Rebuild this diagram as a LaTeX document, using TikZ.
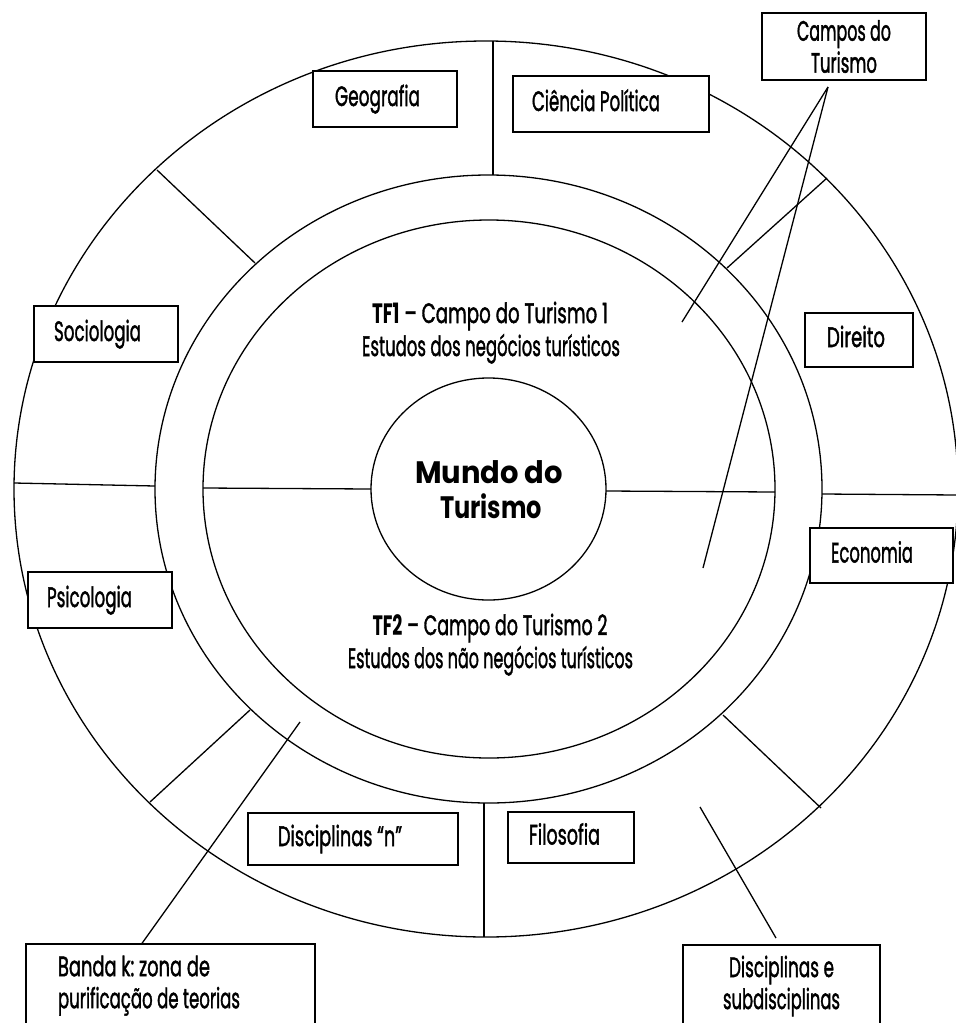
\documentclass[tikz,border=0pt]{standalone}
\usepackage{fontspec}
\usepackage{graphicx}
\newfontfamily\cond[FakeBold=1.8]{Poppins}
\newfontfamily\tfb{Poppins}
\newfontfamily\geo{Poppins}
\frenchspacing
% set a line of text to a given width, keeping its height
\newcommand\fitw[2]{\resizebox{#1}{\height}{\spaceskip=0pt\xspaceskip=0pt\relax#2}}
\begin{document}
\begin{tikzpicture}[x=1pt,y=-1pt,
  ring/.style={line width=1.3pt},
  rule/.style={line width=1.3pt},
  lbl/.style={draw, fill=white, line width=1.3pt, inner ysep=0pt,
    font=\cond\fontsize{28}{32}\selectfont, text height=20pt, text depth=6pt},
  lbl2/.style={draw, fill=white, line width=1.3pt, inner ysep=0pt,
    font=\cond\fontsize{28}{32}\selectfont},
  body/.style={inner sep=0pt, anchor=base, font=\cond\fontsize{28}{32}\selectfont},
  core/.style={inner sep=0pt, anchor=base, font=\geo\bfseries\fontsize{31}{35}\selectfont}]
\useasboundingbox (0,0) rectangle (956,1023);

% concentric rings
\draw[ring] (486,489) ellipse [x radius=472pt, y radius=448pt];
\draw[ring] (488.5,489) ellipse [x radius=333.5pt, y radius=314pt];
\draw[ring] (489,489) ellipse [x radius=286pt, y radius=269pt];
\draw[ring] (488.5,489) ellipse [x radius=117.5pt, y radius=111pt];

% points where the dividers meet the rings
\coordinate (topO) at (493,41);   \coordinate (topM) at (493,175);
\coordinate (botM) at (484,803);  \coordinate (botO) at (484,937);
\coordinate (lfO) at (14,483);    \coordinate (lfM) at (155,486);
\coordinate (lfI) at (203,488);   \coordinate (lfC) at (371,489);
\coordinate (rtC) at (606,491);   \coordinate (rtI) at (775,492);
\coordinate (rtM) at (822,494);   \coordinate (rtO) at (958,495);
\coordinate (ulO) at (157,170);   \coordinate (ulM) at (255,263);
\coordinate (urO) at (827,178);   \coordinate (urM) at (727,268);
\coordinate (llM) at (250,710);   \coordinate (llO) at (150,802);
\coordinate (lrM) at (723,715);   \coordinate (lrO) at (821,808);

% sector dividers
\draw[rule] (topO) -- (topM);
\draw[rule] (botM) -- (botO);
\draw[rule] (lfO) -- (lfM);
\draw[rule] (lfI) -- (lfC);
\draw[rule] (rtC) -- (rtI);
\draw[rule] (rtM) -- (rtO);
\draw[rule] (ulO) -- (ulM);
\draw[rule] (urO) -- (urM);
\draw[rule] (llM) -- (llO);
\draw[rule] (lrM) -- (lrO);

% pointer ends
\coordinate (apex) at (828,87);
\coordinate (tf1pt) at (682,322);
\coordinate (tf2pt) at (703,568);
\coordinate (bandpt) at (300,722);
\coordinate (discpt) at (700,807);
\coordinate (discend) at (776,938);

% labels of the outer band
\node[lbl, inner xsep=22pt, text width=100pt, minimum height=56pt, align=left] (geo) at (385,99) {\fitw{85pt}{Geografia}};
\node[lbl, inner xsep=19pt, text width=158pt, minimum height=56pt, align=left] (cpol) at (611,104) {\fitw{128pt}{Ciência Política}};
\node[lbl, inner xsep=20pt, text width=104pt, minimum height=56pt, align=left] (soc) at (106,334) {\fitw{87pt}{Sociologia}};
\node[lbl, inner xsep=22pt, text width=64pt, minimum height=54pt, align=left] (dir) at (859,340) {\fitw{58pt}{Direito}};
\node[lbl, inner xsep=21pt, text width=101pt, minimum height=55pt, align=left] (eco) at (881.5,555.5) {\fitw{82pt}{Economia}};
\node[lbl, inner xsep=19pt, text width=106pt, minimum height=56pt, align=left] (psi) at (100,600) {\fitw{85pt}{Psicologia}};
\node[lbl, inner xsep=30pt, text width=150pt, minimum height=52pt, align=left] (dn) at (353,839) {\fitw{124pt}{Disciplinas “n”}};
\node[lbl, inner xsep=21pt, text width=84pt, minimum height=51pt, align=left] (fil) at (571,837.5) {\fitw{71pt}{Filosofia}};

% explanatory boxes
\node[lbl2, minimum width=164pt, minimum height=67pt, align=center] (campos) at (844,46.5)
  {\fitw{94pt}{Campos do}\\\fitw{66pt}{Turismo}};
\node[lbl2, inner xsep=32pt, text width=225pt, minimum height=83pt, align=left] (banda) at (170.5,985.5)
  {\fitw{152pt}{Banda k: zona de}\\\fitw{182pt}{purificação de teorias}};
\node[lbl2, minimum width=197pt, minimum height=82pt, align=center] (dsub) at (781.5,986)
  {\fitw{105pt}{Disciplinas e}\\\fitw{117pt}{subdisciplinas}};

% pointers
\draw[rule] (apex) -- (tf1pt);
\draw[rule] (apex) -- (tf2pt);
\draw[rule] (bandpt) -- (banda.north -| 142,0);
\draw[rule] (discpt) -- (discend);

% fields of tourism
\node[body] (tf1a) at (490,323) {\fitw{236pt}{{\tfb\bfseries TF1} – Campo do Turismo 1}};
\node[body] (tf1b) at (491,356) {\fitw{258pt}{Estudos dos negócios turísticos}};
\node[body] (tf2a) at (490,635) {\fitw{235pt}{{\tfb\bfseries TF2} – Campo do Turismo 2}};
\node[body] (tf2b) at (490.5,668) {\fitw{285pt}{Estudos dos não negócios turísticos}};

% centre
\node[core] (m1) at (489,483) {\fitw{148pt}{Mundo do}};
\node[core] (m2) at (491,518) {\fitw{102pt}{Turismo}};
\end{tikzpicture}
\end{document}
